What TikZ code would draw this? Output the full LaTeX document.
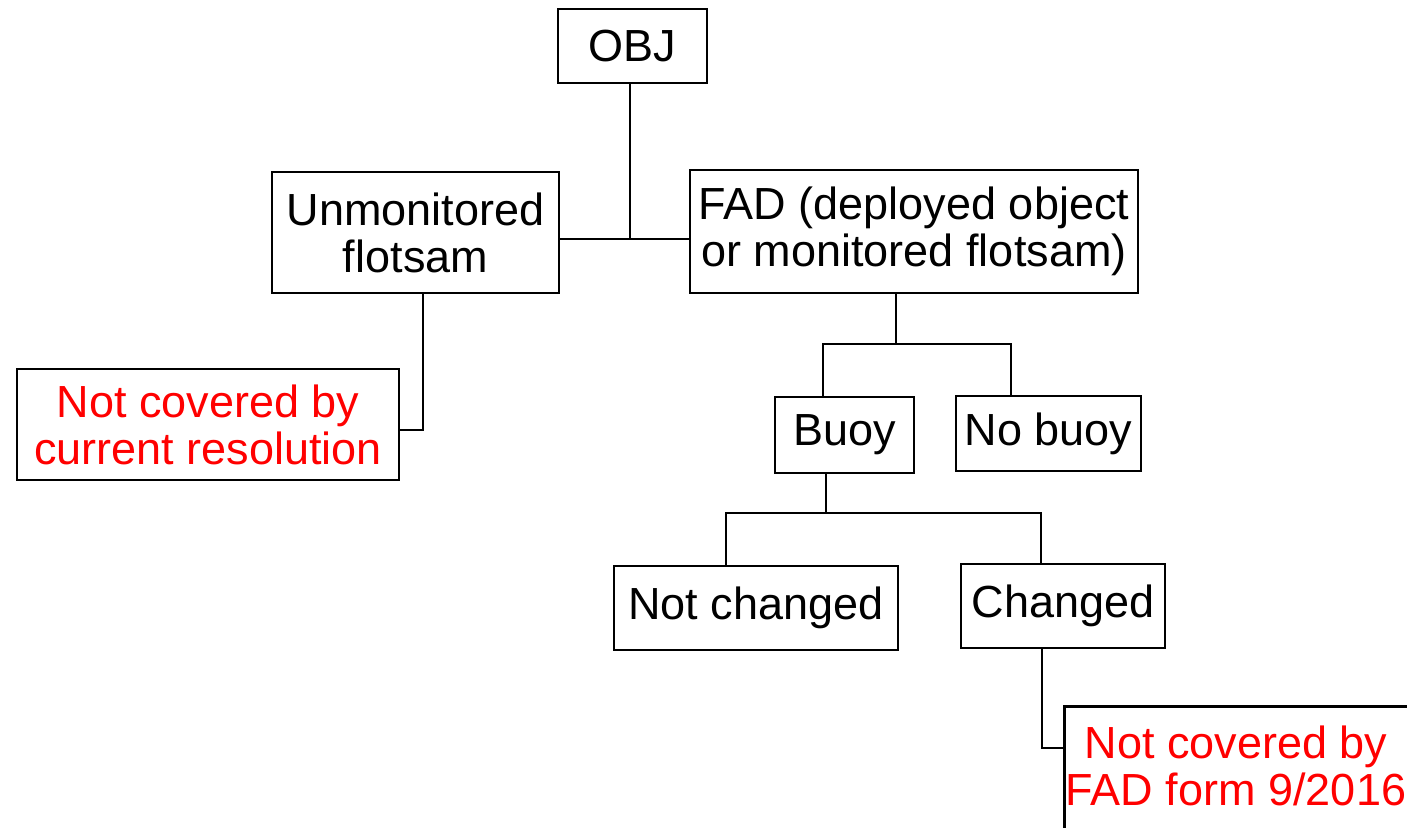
\documentclass[tikz,border=0pt]{standalone}
\usepackage{fontspec}
\setmainfont{Liberation Sans}
\begin{document}
\begin{tikzpicture}[x=0.5pt,y=-0.5pt,
  box/.style={draw=black, line width=1.35pt, fill=white, inner sep=0pt, align=center,
    font=\fontsize{22.5}{23.5}\selectfont},
  redbox/.style={box, text=red},
  conn/.style={draw=black, line width=1.35pt}]
\useasboundingbox (0,0) rectangle (1407,827);
\clip (0,0) rectangle (1407,827);
\node[box, minimum width=74.5pt, minimum height=37pt] (obj) at (632.5,46) {OBJ};
\node[box, minimum width=143.5pt, minimum height=60.5pt] (unmon) at (415.5,232.5) {Unmonitored\\flotsam};
\node[box, minimum width=224pt, minimum height=61.5pt] (fad) at (914,231.5) {FAD (deployed object\\or monitored flotsam)};
\node[redbox, minimum width=191pt, minimum height=55.5pt] (red1) at (208,424.5) {Not covered by\\current resolution};
\node[box, minimum width=69.5pt, minimum height=38pt] (buoy) at (844.5,435) {Buoy};
\node[box, minimum width=92.5pt, minimum height=37.5pt] (nobuoy) at (1048.5,433.5) {No buoy};
\node[box, minimum width=142pt, minimum height=42pt] (notch) at (756,608) {Not changed};
\node[box, minimum width=102pt, minimum height=42pt] (changed) at (1063,606) {Changed};
\node[redbox, minimum width=175pt, minimum height=70pt, anchor=north west] (red2) at (1063,705) {};
\node[text=red, font=\fontsize{22.5}{23.5}\selectfont, align=center, anchor=north, inner sep=0pt] (red2t) at (1236,725) {Not covered by\\FAD form 9/2016};
% connectors
\coordinate (j1) at (630,239);
\draw[conn] (obj.south -| j1) -- (j1);
\draw[conn] (unmon.east |- j1) -- (fad.west |- j1);
\coordinate (u1) at (423,430);
\draw[conn] (unmon.south -| u1) |- (red1.east |- u1);
\coordinate (f1) at (896,344);
\coordinate (fl) at (823,344);
\coordinate (fr) at (1011,344);
\draw[conn] (fad.south -| f1) -- (f1);
\draw[conn] (buoy.north -| fl) -- (fl) -- (fr) -- (nobuoy.north -| fr);
\coordinate (b1) at (826,513);
\coordinate (bl) at (726,513);
\coordinate (br) at (1041,513);
\draw[conn] (buoy.south -| b1) -- (b1);
\draw[conn] (notch.north -| bl) -- (bl) -- (br) -- (changed.north -| br);
\coordinate (c1) at (1042,748);
\draw[conn] (changed.south -| c1) -- (c1) -- (red2.west |- c1);
\end{tikzpicture}
\end{document}
